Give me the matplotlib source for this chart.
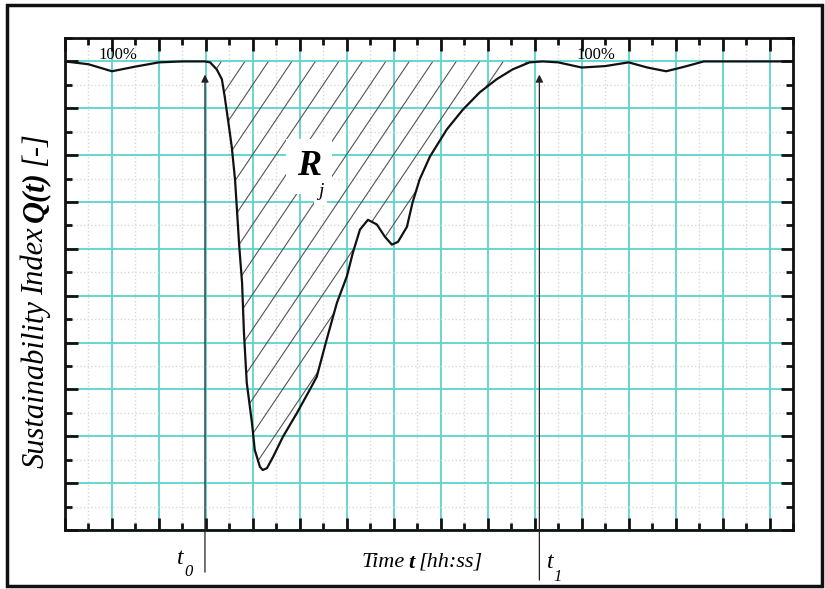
import numpy as np
import matplotlib
matplotlib.use('Agg')
import matplotlib.pyplot as plt
from matplotlib.patches import Polygon, Rectangle
from matplotlib.collections import LineCollection
from matplotlib.ticker import MultipleLocator, NullFormatter
from matplotlib.transforms import IdentityTransform

# ---- data ----
time = [0.0, 0.5, 1.0, 1.5, 2.0, 2.5, 2.98, 3.09, 3.23, 3.34, 3.40, 3.47, 3.55,
        3.62, 3.66, 3.71, 3.77, 3.81, 3.87, 3.98, 4.04, 4.15, 4.21, 4.30, 4.43,
        4.64, 4.94, 5.21, 5.36, 5.57, 5.79, 6.00, 6.13, 6.28, 6.45, 6.64, 6.81,
        6.96, 7.09, 7.28, 7.40, 7.55, 7.77, 8.13, 8.47, 8.83, 9.19, 9.53, 9.89,
        10.17, 10.5, 11.0, 11.5, 12.0, 12.4, 12.8, 13.2, 13.6, 15.5]
quality = [10.0, 9.94, 9.79, 9.89, 9.98, 10.0, 10.0, 9.98, 9.83, 9.62, 9.25, 8.76,
           8.18, 7.48, 6.85, 6.05, 5.28, 4.21, 3.14, 2.29, 1.71, 1.35, 1.28, 1.32,
           1.56, 1.99, 2.50, 2.99, 3.27, 4.06, 4.85, 5.41, 5.92, 6.41, 6.62, 6.52,
           6.26, 6.09, 6.15, 6.47, 6.99, 7.48, 7.97, 8.55, 8.97, 9.34, 9.62, 9.83,
           9.98, 10.0, 9.98, 9.87, 9.90, 9.98, 9.87, 9.79, 9.89, 10.0, 10.0]
t0 = 2.98
t1 = 10.1
full_level = 10.0
label_100 = "100%"

# ---- fonts ----
plt.rcParams['font.family'] = ['Liberation Serif', 'DejaVu Serif']

fig = plt.figure(figsize=(8.25, 5.89), dpi=100)
ax = fig.add_axes([65 / 825, 59 / 589, 728 / 825, 492 / 589])
ax.set_xlim(0, 15.5)
ax.set_ylim(0, 10.5)

# grid
ax.xaxis.set_major_locator(MultipleLocator(1))
ax.xaxis.set_minor_locator(MultipleLocator(0.5))
ax.yaxis.set_major_locator(MultipleLocator(1))
ax.yaxis.set_minor_locator(MultipleLocator(0.5))
ax.xaxis.set_major_formatter(NullFormatter())
ax.yaxis.set_major_formatter(NullFormatter())
ax.set_axisbelow(True)
ax.grid(which='major', color='#5cd3cc', lw=1.3)
ax.grid(which='minor', color='#d8d8d8', ls=':', lw=1.0)
ax.tick_params(which='both', direction='in', top=True, right=True,
               labelbottom=False, labelleft=False, width=2, color='#111111')
ax.tick_params(which='major', length=9)
ax.tick_params(which='minor', length=5)
for s in ax.spines.values():
    s.set_linewidth(2)
    s.set_color('#111111')

# hatched region between curve and 100% between t0 and t1
tt = np.array(time)
qq = np.array(quality)
m = (tt >= t0) & (tt <= t1)
verts = [(t0, full_level)] + list(zip(tt[m], qq[m])) + [(t1, full_level)]
poly = Polygon(verts, closed=True, transform=ax.transData, fill=False,
               edgecolor='none')
ax.add_patch(poly)
slope = 1.49
tops = np.arange(3.83 - 1.0, t1 + 0.6, 0.5)
segs = [[(c - full_level / slope, 0), (c, full_level)] for c in tops]
lc = LineCollection(segs, colors='#555555', linewidths=0.8, zorder=2)
ax.add_collection(lc)
lc.set_clip_path(poly)

# curve
ax.plot(time, quality, color='#111111', lw=1.6, zorder=4,
        solid_joinstyle='round')

# R_j label
ax.text(5.19, 7.76, 'R', fontsize=26, fontweight='bold', fontstyle='italic',
        ha='center', va='center', zorder=3,
        bbox=dict(boxstyle='square,pad=0.3', fc='white', ec='none'))
ax.text(5.44, 7.22, 'j', fontsize=14, fontstyle='italic', ha='center',
        va='center', zorder=3,
        bbox=dict(boxstyle='square,pad=0.2', fc='white', ec='none'))

# 100% labels
ax.text(1.12, 10.13, label_100, fontsize=12, ha='center', va='center')
ax.text(11.3, 10.13, label_100, fontsize=12, ha='center', va='center')

# t0 / t1 arrows
ax.annotate('', xy=(t0, 9.72), xytext=(t0, -0.9),
            arrowprops=dict(arrowstyle='-|>', color='#222222', lw=0.9,
                            mutation_scale=11, shrinkA=0, shrinkB=0),
            annotation_clip=False)
ax.annotate('', xy=(t1, 9.72), xytext=(t1, -1.07),
            arrowprops=dict(arrowstyle='-|>', color='#222222', lw=0.9,
                            mutation_scale=11, shrinkA=0, shrinkB=0),
            annotation_clip=False)

def fpos(px, py):
    return px / 825, 1 - py / 589

fig.text(*fpos(180, 559), 't', fontsize=17, fontstyle='italic',
         ha='center', va='center')
fig.text(*fpos(189, 572), '0', fontsize=12, fontstyle='italic',
         ha='center', va='center')
fig.text(*fpos(550, 563), 't', fontsize=17, fontstyle='italic',
         ha='center', va='center')
fig.text(*fpos(558, 577), '1', fontsize=12, fontstyle='italic',
         ha='center', va='center')


def draw_pieces(cx, cy, pieces, size, rotation=0, gap_em=0.18):
    r = fig.canvas.get_renderer()
    widths = []
    for s, kw in pieces:
        t = fig.text(0, 0, s, fontsize=size, **kw)
        widths.append(t.get_window_extent(r).width)
        t.remove()
    gap = size * gap_em * fig.dpi / 72
    total = sum(widths) + gap * (len(pieces) - 1)
    X, Y = fig.transFigure.transform((cx, cy))
    pos = -total / 2
    for (s, kw), w in zip(pieces, widths):
        if rotation == 0:
            px, py = X + pos, Y
        else:
            px, py = X, Y + pos
        fig.text(px, py, s, transform=IdentityTransform(), fontsize=size,
                 rotation=rotation, rotation_mode='anchor', ha='left',
                 va='center_baseline', **kw)
        pos += w + gap

it = dict(fontstyle='italic')
bi = dict(fontstyle='italic', fontweight='bold')
draw_pieces(*fpos(422, 560), [('Time', it), ('t', bi), ('[hh:ss]', it)], 16)
draw_pieces(*fpos(32, 300), [('Sustainability', it), ('Index', it),
                              ('Q(t)', bi), ('[-]', it)], 22, rotation=90)

# outer frame
fig.patches.append(Rectangle((7 / 825, 3 / 589), 815 / 825, 581 / 589,
                             transform=fig.transFigure, fill=False,
                             ec='#111111', lw=2.5))

fig.savefig('out.png', dpi=100)
